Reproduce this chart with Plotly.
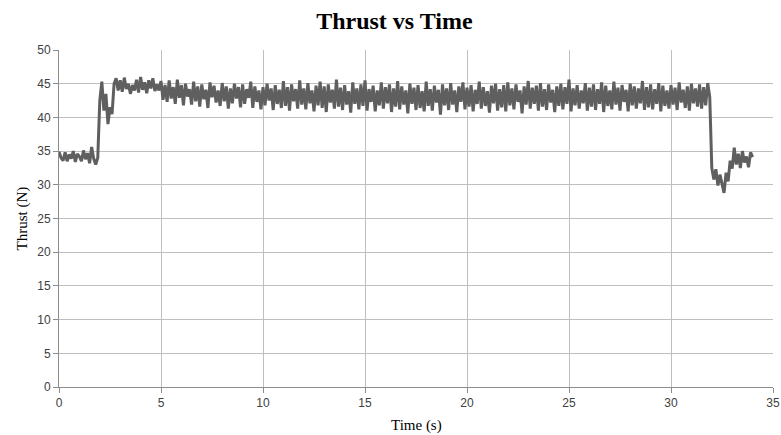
import plotly.graph_objects as go

# time step 0.1 s from 0.0 to 34.0
t_start = 0.0
t_step = 0.1

thrust = [
    # 0.0 - 1.9
    34.9, 34.0, 33.6, 34.8, 33.5, 34.5, 33.9, 35.0, 33.4, 34.6,
    34.2, 33.5, 35.1, 33.8, 34.7, 33.2, 35.6, 33.9, 33.0, 34.0,
    # 2.0 - 2.9
    42.5, 45.3, 41.0, 43.5, 39.0, 41.5, 40.5, 45.0, 45.8, 44.0,
    # 3.0 - 4.9
    45.5, 43.8, 45.9, 44.2, 45.0, 43.5, 44.8, 44.0, 45.6, 43.7,
    46.0, 44.1, 45.2, 43.6, 45.5, 44.3, 45.8, 43.9, 44.9, 44.0,
    # 5.0 - 9.9
    45.4, 42.6, 44.8, 42.3, 45.5, 42.8, 44.5, 42.0, 45.6, 42.9,
    44.8, 41.8, 45.0, 43.1, 44.2, 41.9, 45.3, 42.4, 44.6, 41.6,
    44.9, 42.7, 44.1, 41.4, 45.2, 43.0, 44.7, 42.2, 44.0, 41.7,
    45.1, 42.4, 44.6, 41.3, 44.3, 42.1, 45.0, 42.8, 44.5, 41.5,
    44.9, 42.0, 44.2, 42.9, 45.3, 41.4, 44.6, 42.3, 44.0, 41.2,
    # 10.0 - 14.9
    44.5, 41.8, 45.0, 42.5, 44.3, 41.1, 44.8, 42.0, 44.1, 41.4,
    45.4, 41.7, 44.5, 41.0, 44.9, 42.4, 44.2, 41.3, 45.5, 41.9,
    44.3, 41.2, 45.1, 42.1, 44.0, 40.9, 44.7, 41.8, 45.3, 41.4,
    44.6, 40.8, 44.9, 42.2, 44.1, 41.3, 45.6, 41.6, 44.4, 41.1,
    44.8, 41.9, 43.9, 40.7, 45.2, 42.0, 44.3, 41.2, 44.9, 41.7,
    # 15.0 - 19.9
    45.5, 41.0, 44.2, 42.3, 44.7, 40.9, 44.0, 41.8, 45.2, 41.3,
    44.5, 42.1, 44.9, 40.8, 44.3, 41.6, 45.4, 41.2, 44.6, 41.9,
    44.0, 40.6, 45.0, 42.0, 44.4, 41.1, 44.8, 41.4, 43.9, 40.9,
    45.3, 41.7, 44.2, 41.0, 44.7, 42.2, 44.1, 40.4, 44.9, 41.8,
    44.3, 41.1, 45.1, 41.9, 44.0, 40.8, 44.6, 42.3, 45.2, 41.2,
    # 20.0 - 24.9
    44.4, 41.6, 44.8, 40.9, 44.1, 42.0, 45.3, 41.3, 44.5, 41.7,
    43.9, 40.7, 44.7, 42.1, 45.0, 41.0, 44.2, 41.5, 44.8, 40.9,
    45.2, 41.8, 44.3, 41.2, 44.9, 42.3, 44.0, 40.6, 44.6, 41.9,
    45.4, 41.3, 44.4, 42.0, 44.7, 41.0, 45.1, 41.6, 44.2, 41.1,
    44.9, 42.2, 44.1, 40.8, 44.6, 41.7, 45.0, 41.2, 44.5, 42.0,
    # 25.0 - 29.9
    45.6, 40.9, 44.3, 41.8, 44.8, 41.3, 44.0, 42.1, 45.1, 41.0,
    44.4, 41.6, 44.9, 41.1, 44.2, 42.0, 45.2, 40.8, 44.7, 41.7,
    44.0, 41.2, 45.3, 41.9, 44.4, 41.0, 44.8, 42.3, 44.1, 40.9,
    45.0, 41.8, 44.6, 41.3, 44.3, 42.1, 45.4, 41.1, 44.5, 41.5,
    44.9, 41.2, 44.2, 42.0, 45.1, 40.9, 44.7, 41.7, 44.0, 41.3,
    # 30.0 - 31.9
    44.8, 41.9, 44.4, 41.1, 45.2, 42.2, 44.1, 41.4, 44.6, 41.0,
    45.0, 42.1, 44.3, 41.6, 44.9, 41.3, 44.5, 41.8, 45.1, 43.0,
    # 32.0 - 33.9
    32.5, 30.8, 32.3, 29.9, 31.5, 30.2, 28.8, 31.8, 30.5, 33.6,
    32.4, 35.5, 33.0, 34.6, 32.5, 35.0, 33.3, 34.2, 32.6, 34.8,
    # 34.0
    34.1,
]

time = [round(t_start + i * t_step, 1) for i in range(len(thrust))]

x_ticks = [0, 5, 10, 15, 20, 25, 30, 35]
y_ticks = [0, 5, 10, 15, 20, 25, 30, 35, 40, 45, 50]

fig = go.Figure()
fig.add_trace(go.Scatter(
    x=time, y=thrust, mode="lines",
    line=dict(color="#5f5f5f", width=3),
    showlegend=False,
))

axis_common = dict(
    showgrid=True, gridcolor="#bfbfbf", gridwidth=1,
    showline=True, linecolor="#8c8c8c", linewidth=1,
    ticks="outside", ticklen=5, tickcolor="#8c8c8c",
    zeroline=False, automargin=False,
    tickfont=dict(family="Liberation Sans", size=12, color="#404040"),
)

fig.update_layout(
    width=781, height=435,
    margin=dict(l=59, r=8, t=50, b=48),
    paper_bgcolor="white", plot_bgcolor="white",
    title=dict(
        text="<b>Thrust vs Time</b>",
        x=0.505, xanchor="center", y=1 - 21 / 435, yanchor="middle",
        font=dict(family="Liberation Serif", size=24, color="black"),
    ),
    xaxis=dict(range=[0, 35], tickvals=x_ticks, **axis_common),
    yaxis=dict(range=[0, 50], tickvals=y_ticks, **axis_common),
    annotations=[
        dict(text="Time (s)", xref="paper", yref="paper",
             x=0.5, y=-39 / 337, xanchor="center", yanchor="middle",
             showarrow=False,
             font=dict(family="Liberation Serif", size=15, color="black")),
        dict(text="Thrust (N)", xref="paper", yref="paper",
             x=-37 / 714, y=0.5, xanchor="center", yanchor="middle",
             textangle=-90, showarrow=False,
             font=dict(family="Liberation Serif", size=15, color="black")),
    ],
)

fig.write_html(
    "out.html",
    config={"displayModeBar": False},
    post_script="document.body.style.margin='0px';document.body.style.overflow='hidden';",
)
